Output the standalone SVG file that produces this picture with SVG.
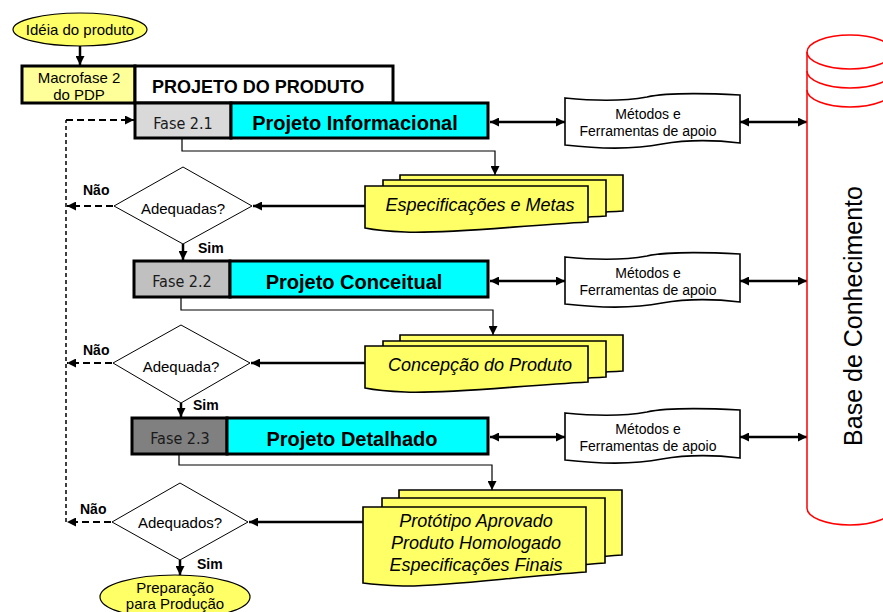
<svg xmlns="http://www.w3.org/2000/svg" width="883" height="612" viewBox="0 0 883 612">
  <style>
    text { font-family: "Liberation Sans", Arial, sans-serif; fill: #000; }
    .box { stroke: #000; stroke-width: 3; }
    .doc { fill: #FFFF66; stroke: #000; stroke-width: 1.6; }
    .term { fill: #FFFF66; stroke: #000; stroke-width: 1.2; }
    .dia { fill: #fff; stroke: #000; stroke-width: 1; }
    .tape { fill: #fff; stroke: #000; stroke-width: 1.6; }
    .fase { font-family: "Liberation Sans Narrow", "DejaVu Sans Condensed", "Liberation Sans", sans-serif; font-size: 16px; text-anchor: middle; fill: #1a1a1a; }
    .ptitle { font-size: 20px; font-weight: bold; text-anchor: middle; }
    .doctext { font-size: 18px; font-style: italic; text-anchor: middle; }
    .lbl { font-size: 15px; text-anchor: middle; }
    .tool { font-size: 14px; text-anchor: middle; }
    .yn { font-size: 14px; font-weight: bold; }
    .c-solid { fill: none; stroke: #000; stroke-width: 2.5; }
    .c-thin { fill: none; stroke: #000; stroke-width: 1.2; }
    .c-dash { fill: none; stroke: #000; stroke-width: 2; stroke-dasharray: 7 4; }
    .c-dash-v { fill: none; stroke: #000; stroke-width: 1.5; stroke-dasharray: 4 3; }
    .kb { fill: none; stroke: #FF0000; stroke-width: 1.5; }
  </style>
  <defs>
    <marker id="ah" viewBox="0 0 10 10" refX="10" refY="5" markerWidth="11" markerHeight="9" markerUnits="userSpaceOnUse" orient="auto-start-reverse">
      <path d="M0,0 L10,5 L0,10 Z" fill="#000"/>
    </marker>
    <!-- document shapes with wavy bottom, local origin at top-left -->
    <path id="docA" d="M0,0 H223 V36 C150,40 80,48 40,46 Q15,45 0,42 Z"/>
    <path id="docB" d="M0,0 H223 V65 C150,70 80,80 40,79 Q15,78 0,76 Z"/>
    <!-- punched-tape shape for the support tools -->
    <path id="tape" d="M565,98 C595,101 625,101 647,97 C665,93 700,93 740,95 L740,143 C715,140 685,140 662,144 C637,149 600,149 565,145 Z"/>
  </defs>

  <!-- connectors -->
  <g id="connectors">
    <line class="c-solid" x1="80" y1="46" x2="80" y2="65" marker-end="url(#ah)"/>

    <polyline class="c-thin" points="182,139 182,151 495,151 495,175" marker-end="url(#ah)"/>
    <line class="c-solid" x1="365" y1="206" x2="253" y2="206" marker-end="url(#ah)"/>
    <line class="c-solid" x1="183" y1="244" x2="183" y2="260" marker-end="url(#ah)"/>
    <line class="c-dash" x1="113" y1="206" x2="67" y2="206" marker-end="url(#ah)"/>

    <polyline class="c-thin" points="181,297 181,310 493,310 493,335" marker-end="url(#ah)"/>
    <line class="c-solid" x1="365" y1="363" x2="251" y2="363" marker-end="url(#ah)"/>
    <line class="c-solid" x1="181" y1="403" x2="181" y2="417" marker-end="url(#ah)"/>
    <line class="c-dash" x1="112" y1="363" x2="67" y2="363" marker-end="url(#ah)"/>

    <polyline class="c-thin" points="179,454 179,465 492,465 492,490" marker-end="url(#ah)"/>
    <line class="c-solid" x1="363" y1="522" x2="249" y2="522" marker-end="url(#ah)"/>
    <line class="c-solid" x1="180" y1="560" x2="180" y2="575" marker-end="url(#ah)"/>
    <line class="c-dash" x1="111" y1="522" x2="67" y2="522" marker-end="url(#ah)"/>

    <!-- return path to phase 2.1 -->
    <line class="c-dash-v" x1="66" y1="522" x2="66" y2="120"/>
    <line class="c-dash" x1="66" y1="120" x2="134" y2="120" marker-end="url(#ah)"/>

    <!-- phases <-> support tools <-> knowledge base -->
    <line class="c-solid" x1="490" y1="122" x2="565" y2="122" marker-start="url(#ah)" marker-end="url(#ah)"/>
    <line class="c-solid" x1="740" y1="122" x2="807" y2="122" marker-start="url(#ah)" marker-end="url(#ah)"/>
    <line class="c-solid" x1="490" y1="281" x2="565" y2="281" marker-start="url(#ah)" marker-end="url(#ah)"/>
    <line class="c-solid" x1="740" y1="281" x2="807" y2="281" marker-start="url(#ah)" marker-end="url(#ah)"/>
    <line class="c-solid" x1="490" y1="437" x2="565" y2="437" marker-start="url(#ah)" marker-end="url(#ah)"/>
    <line class="c-solid" x1="740" y1="437" x2="807" y2="437" marker-start="url(#ah)" marker-end="url(#ah)"/>
  </g>

  <!-- start terminator -->
  <g id="ideia">
    <ellipse class="term" cx="80" cy="29.5" rx="67" ry="16.5"/>
    <text x="80" y="35" class="lbl" font-size="16">Idéia do produto</text>
  </g>

  <!-- macro-phase header -->
  <g id="macrofase">
    <rect x="22" y="66" width="113" height="37" fill="#FFFF99" class="box"/>
    <rect x="135" y="66" width="258" height="37" fill="#fff" class="box"/>
    <text x="79" y="83" class="lbl" font-size="15.5">Macrofase 2</text>
    <text x="79" y="100" class="lbl" font-size="15.5">do PDP</text>
    <text x="152" y="93" font-size="18" font-weight="bold">PROJETO DO PRODUTO</text>
  </g>

  <!-- phase 2.1 -->
  <g id="fase21">
    <rect x="135" y="103" width="96" height="35" fill="#D9D9D9" class="box"/>
    <rect x="231" y="103" width="257" height="35" fill="#00FFFF" class="box"/>
    <text x="183" y="129" class="fase">Fase 2.1</text>
    <text x="355" y="130" class="ptitle">Projeto Informacional</text>
  </g>

  <!-- phase 2.2 -->
  <g id="fase22">
    <rect x="134" y="261" width="96" height="36" fill="#C0C0C0" class="box"/>
    <rect x="230" y="261" width="258" height="36" fill="#00FFFF" class="box"/>
    <text x="182" y="287" class="fase">Fase 2.2</text>
    <text x="354" y="289" class="ptitle">Projeto Conceitual</text>
  </g>

  <!-- phase 2.3 -->
  <g id="fase23">
    <rect x="132" y="418" width="95" height="36" fill="#808080" class="box"/>
    <rect x="227" y="418" width="261" height="36" fill="#00FFFF" class="box"/>
    <text x="180" y="444" class="fase">Fase 2.3</text>
    <text x="352" y="446" class="ptitle">Projeto Detalhado</text>
  </g>

  <!-- support tools -->
  <g id="metodos1">
    <use href="#tape" class="tape"/>
    <text x="648" y="119" class="tool">Métodos e</text>
    <text x="648" y="136" class="tool">Ferramentas de apoio</text>
  </g>
  <g id="metodos2" transform="translate(0,159)">
    <use href="#tape" class="tape"/>
    <text x="648" y="119" class="tool">Métodos e</text>
    <text x="648" y="136" class="tool">Ferramentas de apoio</text>
  </g>
  <g id="metodos3" transform="translate(0,315)">
    <use href="#tape" class="tape"/>
    <text x="648" y="119" class="tool">Métodos e</text>
    <text x="648" y="136" class="tool">Ferramentas de apoio</text>
  </g>

  <!-- output documents -->
  <g id="docs1">
    <use href="#docA" class="doc" x="400" y="175"/>
    <use href="#docA" class="doc" x="383" y="180"/>
    <use href="#docA" class="doc" x="365" y="186"/>
    <text x="480" y="211" class="doctext">Especificações e Metas</text>
  </g>
  <g id="docs2">
    <use href="#docA" class="doc" x="400" y="335"/>
    <use href="#docA" class="doc" x="383" y="341"/>
    <use href="#docA" class="doc" x="365" y="346"/>
    <text x="480" y="371" class="doctext">Concepção do Produto</text>
  </g>
  <g id="docs3">
    <use href="#docB" class="doc" x="399" y="490"/>
    <use href="#docB" class="doc" x="382" y="498"/>
    <use href="#docB" class="doc" x="363" y="507"/>
    <text x="476" y="527" class="doctext">Protótipo Aprovado</text>
    <text x="476" y="549" class="doctext">Produto Homologado</text>
    <text x="476" y="571" class="doctext">Especificações Finais</text>
  </g>

  <!-- decisions -->
  <g id="decisao1">
    <polygon class="dia" points="183,167 252,206 183,244 114,206"/>
    <text x="183" y="214" class="lbl">Adequadas?</text>
    <text x="83" y="195" class="yn">Não</text>
    <text x="198" y="253" class="yn">Sim</text>
  </g>
  <g id="decisao2">
    <polygon class="dia" points="181,325 250,363 181,403 113,363"/>
    <text x="181" y="372" class="lbl">Adequada?</text>
    <text x="83" y="355" class="yn">Não</text>
    <text x="193" y="410" class="yn">Sim</text>
  </g>
  <g id="decisao3">
    <polygon class="dia" points="180,483 248,522 180,560 112,522"/>
    <text x="180" y="528" class="lbl">Adequados?</text>
    <text x="80" y="514" class="yn">Não</text>
    <text x="197" y="569" class="yn">Sim</text>
  </g>

  <!-- end terminator -->
  <g id="preparacao">
    <ellipse class="term" cx="175" cy="597" rx="75" ry="22"/>
    <text x="175" y="593" class="lbl">Preparação</text>
    <text x="175" y="609" class="lbl">para Produção</text>
  </g>

  <!-- knowledge base cylinder -->
  <g id="base">
    <ellipse class="kb" cx="850" cy="52" rx="43" ry="17"/>
    <path class="kb" d="M807,71 A43,17 0 0 0 893,71"/>
    <path class="kb" d="M807,90 A43,17 0 0 0 893,90"/>
    <path class="kb" d="M807,52 V508 A43,17 0 0 0 893,508"/>
    <text x="862" y="316" font-size="25" text-anchor="middle" transform="rotate(-90 862 316)">Base de Conhecimento</text>
  </g>
</svg>
